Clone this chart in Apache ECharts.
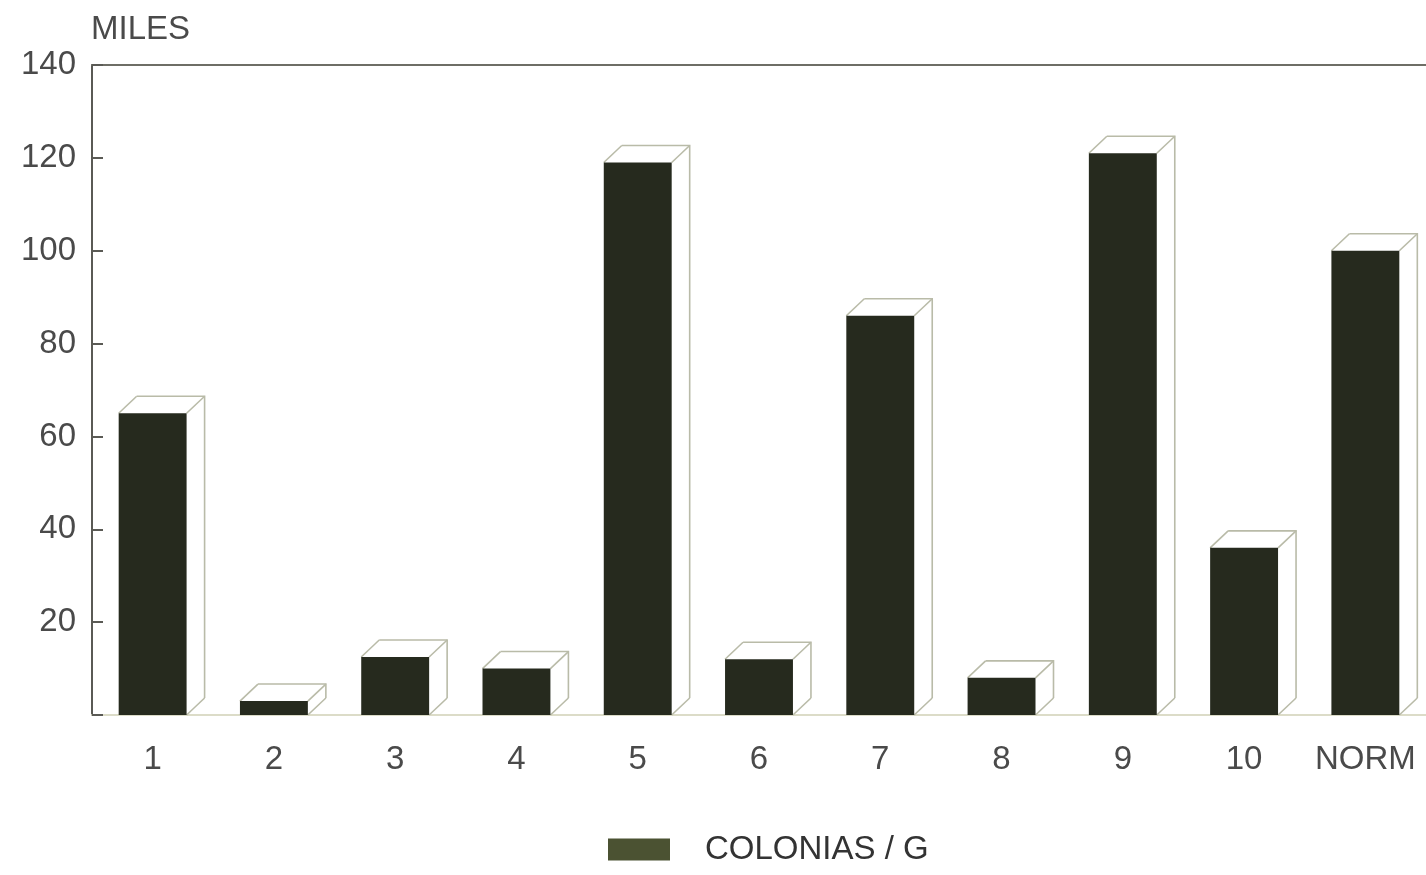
<!DOCTYPE html>
<html>
<head>
<meta charset="utf-8">
<script src="https://cdn.jsdelivr.net/npm/echarts@6/dist/echarts.min.js"></script>
<style>
  html, body { margin: 0; padding: 0; background: #ffffff; }
  #chart { width: 1426px; height: 875px; }
</style>
</head>
<body>
<div id="chart"></div>
<script>
// Categories along the x axis
const categories = ['1', '2', '3', '4', '5', '6', '7', '8', '9', '10', 'NORM'];
// Colony counts (thousands) per category
const colonias = [65, 3, 12.5, 10, 119, 12, 86, 8, 121, 36, 100];
// Y axis range
const yMin = 0, yMax = 140, yStep = 20;
const seriesName = 'COLONIAS / G';

const textColor = '#4a4a4a';
const barColor = '#262a1e';
const frameColor = '#b9bba8';

const chart = echarts.init(document.getElementById('chart'));

// Back outline of each box: offset copy of the bar with corner connectors
function renderFrame(params, api) {
  const idx = api.value(0);
  const val = api.value(1);
  const top = api.coord([idx, val]);
  const base = api.coord([idx, 0]);
  const bw = api.size([1, 0])[0] * 0.56;
  const x0 = top[0] - bw / 2, x1 = top[0] + bw / 2;
  const dx = 18, dy = -17;
  const ls = { stroke: frameColor, lineWidth: 1.6, fill: null };
  return {
    type: 'group',
    children: [
      { type: 'polyline', shape: { points: [[x0 + dx, top[1] + dy], [x1 + dx, top[1] + dy], [x1 + dx, base[1] + dy]] }, style: ls },
      { type: 'line', shape: { x1: x0, y1: top[1], x2: x0 + dx, y2: top[1] + dy }, style: ls },
      { type: 'line', shape: { x1: x1, y1: top[1], x2: x1 + dx, y2: top[1] + dy }, style: ls },
      { type: 'line', shape: { x1: x1, y1: base[1], x2: x1 + dx, y2: base[1] + dy }, style: ls }
    ]
  };
}

chart.setOption({
  backgroundColor: '#ffffff',
  animation: false,
  textStyle: { fontFamily: 'Liberation Sans, Arial, sans-serif' },
  title: {
    text: 'MILES',
    left: 86, top: 8,
    textStyle: { fontSize: 33, fontWeight: 'normal', color: textColor }
  },
  legend: {
    data: [seriesName],
    top: 828, left: 603,
    icon: 'rect',
    itemWidth: 62, itemHeight: 22,
    textStyle: { fontSize: 33, color: '#333', padding: [0, 0, 0, 30] },
    itemStyle: { color: '#4b5232' }
  },
  grid: { left: 92, right: 0, top: 65, bottom: 160, containLabel: false },
  xAxis: [
    {
      type: 'category', data: categories,
      axisLine: { show: true, lineStyle: { color: '#dcdcc8', width: 2 } },
      axisTick: { show: false },
      axisLabel: { fontSize: 33, color: textColor, margin: 28, interval: 0, hideOverlap: false }
    },
    {
      type: 'category', data: categories, position: 'top',
      axisLine: { show: true, lineStyle: { color: '#6e6e66', width: 2 } },
      axisTick: { show: false }, axisLabel: { show: false }
    }
  ],
  yAxis: {
    type: 'value', min: yMin, max: yMax, interval: yStep,
    axisLine: { show: true, lineStyle: { color: '#5a5a55', width: 2 } },
    axisTick: { show: true, inside: true, length: 11, lineStyle: { color: '#5a5a55', width: 2 } },
    splitLine: { show: false },
    axisLabel: {
      fontSize: 33, color: textColor, margin: 16,
      formatter: v => (v === 0 ? '' : String(v))
    }
  },
  series: [
    {
      name: 'frame', type: 'custom', renderItem: renderFrame,
      data: colonias.map((v, i) => [i, v]), z: 1, silent: true
    },
    {
      name: seriesName, type: 'bar', data: colonias,
      barWidth: '56%', z: 2,
      itemStyle: { color: barColor }
    }
  ]
});
</script>
</body>
</html>
